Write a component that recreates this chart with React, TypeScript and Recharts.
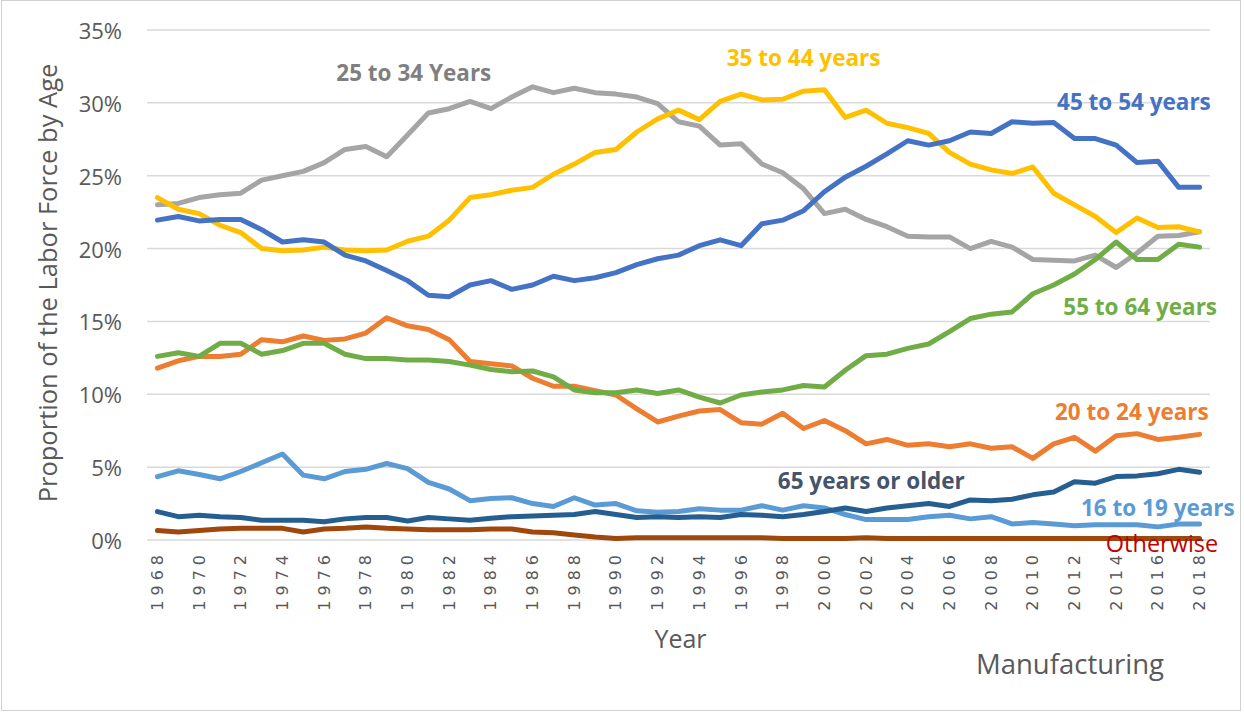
import React from "react";
import { LineChart, Line, XAxis, YAxis, CartesianGrid, ReferenceDot } from "recharts";

const years: number[] = [
  1968, 1969, 1970, 1971, 1972, 1973, 1974, 1975, 1976, 1977, 1978, 1979, 1980, 1981, 1982, 1983, 1984,
  1985, 1986, 1987, 1988, 1989, 1990, 1991, 1992, 1993, 1994, 1995, 1996, 1997, 1998, 1999, 2000, 2001,
  2002, 2003, 2004, 2005, 2006, 2007, 2008, 2009, 2010, 2011, 2012, 2013, 2014, 2015, 2016, 2017, 2018,
];

const age16to19: number[] = [
  4.35, 4.75, 4.5, 4.2, 4.7, 5.3, 5.9, 4.45, 4.2, 4.7, 4.85, 5.25, 4.9, 3.95, 3.5, 2.7, 2.85,
  2.9, 2.5, 2.3, 2.9, 2.4, 2.5, 2.0, 1.9, 1.95, 2.15, 2.05, 2.05, 2.35, 2.05, 2.35, 2.2, 1.75,
  1.4, 1.4, 1.4, 1.6, 1.7, 1.45, 1.6, 1.1, 1.2, 1.1, 0.98, 1.05, 1.05, 1.05, 0.9, 1.1, 1.1,
];
const age20to24: number[] = [
  11.8, 12.3, 12.6, 12.6, 12.75, 13.75, 13.6, 14.0, 13.7, 13.8, 14.2, 15.25, 14.7, 14.45, 13.75, 12.25, 12.1,
  11.95, 11.1, 10.55, 10.55, 10.25, 9.95, 9.0, 8.1, 8.5, 8.85, 8.95, 8.05, 7.95, 8.7, 7.65, 8.2, 7.5,
  6.6, 6.9, 6.5, 6.6, 6.4, 6.6, 6.3, 6.4, 5.6, 6.6, 7.05, 6.1, 7.15, 7.3, 6.9, 7.05, 7.25,
];
const age25to34: number[] = [
  23.0, 23.1, 23.5, 23.7, 23.8, 24.7, 25.0, 25.3, 25.9, 26.8, 27.0, 26.3, 27.8, 29.3, 29.6, 30.1, 29.6,
  30.4, 31.1, 30.7, 31.0, 30.7, 30.6, 30.4, 29.95, 28.7, 28.4, 27.1, 27.2, 25.8, 25.2, 24.1, 22.4, 22.7,
  22.0, 21.5, 20.85, 20.8, 20.8, 20.0, 20.5, 20.1, 19.25, 19.2, 19.15, 19.55, 18.7, 19.7, 20.85, 20.9, 21.15,
];
const age35to44: number[] = [
  23.5, 22.7, 22.4, 21.6, 21.1, 20.0, 19.85, 19.9, 20.1, 19.9, 19.85, 19.9, 20.5, 20.85, 21.95, 23.5, 23.7,
  24.0, 24.2, 25.1, 25.8, 26.6, 26.8, 28.0, 28.9, 29.5, 28.85, 30.1, 30.6, 30.2, 30.25, 30.8, 30.9, 29.0,
  29.5, 28.6, 28.3, 27.9, 26.6, 25.8, 25.4, 25.15, 25.6, 23.8, 23.0, 22.2, 21.1, 22.1, 21.45, 21.5, 21.15,
];
const age45to54: number[] = [
  21.95, 22.2, 21.9, 22.0, 22.0, 21.3, 20.45, 20.6, 20.45, 19.55, 19.15, 18.5, 17.8, 16.8, 16.7, 17.5, 17.8,
  17.2, 17.5, 18.1, 17.8, 18.0, 18.35, 18.9, 19.3, 19.55, 20.2, 20.6, 20.2, 21.7, 21.95, 22.6, 23.9, 24.9,
  25.65, 26.5, 27.4, 27.1, 27.4, 28.0, 27.9, 28.7, 28.6, 28.65, 27.55, 27.55, 27.1, 25.9, 26.0, 24.2, 24.2,
];
const age55to64: number[] = [
  12.6, 12.85, 12.6, 13.5, 13.5, 12.75, 13.0, 13.5, 13.5, 12.75, 12.45, 12.45, 12.35, 12.35, 12.25, 12.0, 11.7,
  11.55, 11.6, 11.2, 10.3, 10.1, 10.1, 10.3, 10.05, 10.3, 9.8, 9.4, 9.95, 10.15, 10.3, 10.6, 10.5, 11.65,
  12.65, 12.75, 13.15, 13.45, 14.3, 15.2, 15.5, 15.65, 16.9, 17.5, 18.25, 19.25, 20.45, 19.25, 19.25, 20.3, 20.1,
];
const age65plus: number[] = [
  1.95, 1.6, 1.7, 1.6, 1.55, 1.35, 1.35, 1.35, 1.25, 1.45, 1.55, 1.55, 1.3, 1.55, 1.45, 1.35, 1.5,
  1.6, 1.65, 1.7, 1.75, 1.95, 1.75, 1.55, 1.6, 1.55, 1.6, 1.55, 1.75, 1.7, 1.6, 1.75, 1.95, 2.2,
  1.95, 2.2, 2.35, 2.5, 2.3, 2.75, 2.7, 2.8, 3.1, 3.3, 4.0, 3.9, 4.35, 4.4, 4.55, 4.85, 4.65,
];
const otherwise: number[] = [
  0.65, 0.55, 0.65, 0.75, 0.8, 0.8, 0.8, 0.55, 0.75, 0.8, 0.9, 0.8, 0.75, 0.7, 0.7, 0.7, 0.75,
  0.75, 0.55, 0.5, 0.35, 0.2, 0.1, 0.15, 0.15, 0.15, 0.15, 0.15, 0.15, 0.15, 0.1, 0.1, 0.1, 0.1,
  0.15, 0.1, 0.1, 0.1, 0.1, 0.1, 0.1, 0.1, 0.1, 0.1, 0.1, 0.1, 0.1, 0.1, 0.1, 0.1, 0.1,
];

const yTicks: number[] = [0, 5, 10, 15, 20, 25, 30, 35];
const xTicks: number[] = [
  1968, 1970, 1972, 1974, 1976, 1978, 1980, 1982, 1984, 1986, 1988, 1990, 1992, 1994, 1996, 1998,
  2000, 2002, 2004, 2006, 2008, 2010, 2012, 2014, 2016, 2018,
];

const seriesKeys = ["otherwise", "a16", "a20", "a25", "a35", "a45", "a55", "a65"];
const seriesColors: Record<string, string> = {
  otherwise: "#9E480E",
  a16: "#5B9BD5",
  a20: "#ED7D31",
  a25: "#A5A5A5",
  a35: "#FFC000",
  a45: "#4472C4",
  a55: "#70AD47",
  a65: "#255E91",
};

// annotation labels: [text, year, value, color, bold]
const annotations: [string, number, number, string, boolean][] = [
  ["25 to 34 Years", 1980.3, 32.1, "#7F7F7F", true],
  ["35 to 44 years", 1999.0, 33.1, "#FFC000", true],
  ["45 to 54 years", 2014.85, 30.1, "#4472C4", true],
  ["55 to 64 years", 2015.15, 16.0, "#70AD47", true],
  ["20 to 24 years", 2014.75, 8.85, "#ED7D31", true],
  ["65 years or older", 2002.25, 4.1, "#44546A", true],
  ["16 to 19 years", 2016.0, 2.25, "#5B9BD5", true],
  ["Otherwise", 2016.2, -0.2, "#C00000", false],
];

const data = years.map((y, i) => ({
  year: y,
  a16: age16to19[i],
  a20: age20to24[i],
  a25: age25to34[i],
  a35: age35to44[i],
  a45: age45to54[i],
  a55: age55to64[i],
  a65: age65plus[i],
  otherwise: otherwise[i],
}));

const FONT = "'Open Sans', sans-serif";

const XTick = (props: any) => {
  const { x, y, payload } = props;
  return (
    <text
      transform={`translate(${x},${y + 2}) rotate(-90)`}
      textAnchor="end"
      dominantBaseline="central"
      fontFamily="'DejaVu Sans', sans-serif"
      fontSize={16}
      letterSpacing={5}
      fill="#595959"
    >
      {payload.value}
    </text>
  );
};

const YTick = (props: any) => {
  const { x, y, payload } = props;
  return (
    <text x={x} y={y} textAnchor="end" dominantBaseline="central" fontFamily={FONT} fontSize={22} fill="#595959">
      {`${payload.value}%`}
    </text>
  );
};

const YTitle = (props: any) => {
  const vb = props.viewBox || { x: 0, y: 30, width: 147, height: 510 };
  const cx = 47;
  const cy = vb.y + vb.height / 2 - 2;
  return (
    <text
      transform={`translate(${cx},${cy}) rotate(-90)`}
      textAnchor="middle"
      dominantBaseline="central"
      fontFamily={FONT}
      fontSize={25.5}
      fill="#595959"
    >
      Proportion of the Labor Force by Age
    </text>
  );
};

const XTitle = (props: any) => {
  const vb = props.viewBox || { x: 147, y: 540, width: 1063, height: 80 };
  return (
    <g>
      <text
        x={vb.x + vb.width / 2 + 2}
        y={638}
        textAnchor="middle"
        dominantBaseline="central"
        fontFamily={FONT}
        fontSize={25}
        fill="#595959"
      >
        Year
      </text>
      <text x={1070} y={663} textAnchor="middle" dominantBaseline="central" fontFamily={FONT} fontSize={27.5} fill="#595959">
        Manufacturing
      </text>
    </g>
  );
};

const AnnLabel = (props: any) => {
  const { viewBox, text, color, bold } = props;
  const cx = viewBox.x + (viewBox.width || 0) / 2;
  const cy = viewBox.y + (viewBox.height || 0) / 2;
  return (
    <text
      x={cx}
      y={cy}
      textAnchor="middle"
      dominantBaseline="central"
      fontFamily={FONT}
      fontSize={bold ? 22.5 : 23.5}
      fontWeight={bold ? 700 : 400}
      fill={color}
    >
      {text}
    </text>
  );
};

export default function App() {
  return (
    <div style={{ position: "absolute", left: 0, top: 0, width: 1244, height: 712, background: "#fff" }}>
      <LineChart width={1244} height={712} data={data} margin={{ top: 30, right: 34, bottom: 92, left: 0 }}>
        <CartesianGrid horizontal vertical={false} stroke="#D9D9D9" strokeWidth={1.5} />
        <XAxis
          dataKey="year"
          type="number"
          domain={[1967.5, 2018.5]}
          ticks={xTicks}
          interval={0}
          axisLine={false}
          tickLine={false}
          height={80}
          tick={<XTick />}
          label={<XTitle />}
        />
        <YAxis
          type="number"
          domain={[0, 35]}
          ticks={yTicks}
          interval={0}
          axisLine={false}
          tickLine={false}
          width={147}
          tickMargin={19}
          tick={<YTick />}
          label={<YTitle />}
        />
        {seriesKeys.map((k) => (
          <Line
            key={k}
            type="linear"
            dataKey={k}
            stroke={seriesColors[k]}
            strokeWidth={5}
            dot={false}
            activeDot={false}
            isAnimationActive={false}
            strokeLinejoin="round"
            strokeLinecap="round"
          />
        ))}
        {annotations.map(([text, x, y, color, bold]) => (
          <ReferenceDot
            key={text}
            x={x}
            y={y}
            r={0}
            fill="none"
            stroke="none"
            ifOverflow="visible"
            label={<AnnLabel text={text} color={color} bold={bold} />}
          />
        ))}
      </LineChart>
      <div
        style={{
          position: "absolute",
          left: 1,
          top: 0,
          width: 1240,
          height: 711,
          boxSizing: "border-box",
          border: "1.5px solid #D0D0D0",
          pointerEvents: "none",
        }}
      />
    </div>
  );
}
